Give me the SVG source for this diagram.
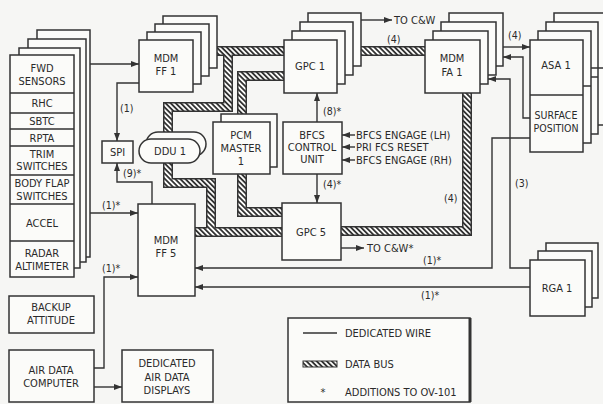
<svg xmlns="http://www.w3.org/2000/svg" width="603" height="404" viewBox="0 0 603 404">
<defs>
<style>
.box{fill:#fbfbf9;stroke:#333;stroke-width:1.5}
.t{font-family:'DejaVu Sans Condensed','Liberation Sans Narrow','Liberation Sans',sans-serif;font-size:11px;fill:#2a2a2a;text-anchor:middle}
.l{font-family:'DejaVu Sans Condensed','Liberation Sans Narrow','Liberation Sans',sans-serif;font-size:10.5px;fill:#2a2a2a}
.w{fill:none;stroke:#333;stroke-width:1.4}
.bo{fill:none;stroke:#333;stroke-width:10}
.bi{fill:none;stroke:url(#hatch);stroke-width:7}
</style>
<pattern id="hatch" patternUnits="userSpaceOnUse" width="3.6" height="3.6" patternTransform="rotate(-45)">
<rect width="3.6" height="3.6" fill="#fbfbf9"/><rect width="1.8" height="3.6" fill="#333"/>
</pattern>
<marker id="ah" markerWidth="8" markerHeight="6" refX="8" refY="3" orient="auto" markerUnits="userSpaceOnUse"><path d="M0,0 L8,3 L0,6 z" fill="#333"/></marker>
<path id="b1" d="M210 51 H288"/>
<path id="b2" d="M228 51 V107 H168 V183 H211 V232"/>
<path id="b3" d="M190 232 H286"/>
<path id="b4" d="M242 118 V76 H288"/>
<path id="b5" d="M242 170 V212 H286"/>
<path id="b6" d="M356 51 H429"/>
<path id="b7" d="M337 231 H467 V88"/>
</defs>
<rect width="603" height="404" fill="#f6f6f4"/>

<g id="buses">
<use href="#b1" class="bo"/><use href="#b2" class="bo"/><use href="#b3" class="bo"/><use href="#b4" class="bo"/><use href="#b5" class="bo"/><use href="#b6" class="bo"/><use href="#b7" class="bo"/>
<use href="#b1" class="bi"/><use href="#b2" class="bi"/><use href="#b3" class="bi"/><use href="#b4" class="bi"/><use href="#b5" class="bi"/><use href="#b6" class="bi"/><use href="#b7" class="bi"/>
</g>

<g id="sensors">
<rect class="box" x="37" y="30" width="53" height="227"/>
<rect class="box" x="28" y="39" width="58" height="223"/>
<rect class="box" x="19" y="48" width="61" height="220"/>
<rect class="box" x="10" y="55" width="64" height="222"/>
<path class="w" d="M10 93 H74 M10 113 H74 M10 129 H74 M10 146 H74 M10 175 H74 M10 204 H74 M10 241 H74"/>
<text class="t" x="42" y="72">FWD</text>
<text class="t" x="42" y="85">SENSORS</text>
<text class="t" x="42" y="107">RHC</text>
<text class="t" x="42" y="125">SBTC</text>
<text class="t" x="42" y="142">RPTA</text>
<text class="t" x="42" y="158">TRIM</text>
<text class="t" x="42" y="170">SWITCHES</text>
<text class="t" x="42" y="187">BODY FLAP</text>
<text class="t" x="42" y="200">SWITCHES</text>
<text class="t" x="42" y="227">ACCEL</text>
<text class="t" x="42" y="257">RADAR</text>
<text class="t" x="42" y="270">ALTIMETER</text>
</g>

<g id="mdm-ff1">
<rect class="box" x="163" y="16" width="54" height="52"/>
<rect class="box" x="155" y="24" width="54" height="52"/>
<rect class="box" x="147" y="32" width="54" height="52"/>
<rect class="box" x="139" y="40" width="54" height="52"/>
<text class="t" x="166" y="62">MDM</text>
<text class="t" x="166" y="75">FF 1</text>
</g>

<g id="gpc1">
<rect class="box" x="308" y="13" width="53" height="53"/>
<rect class="box" x="300" y="22" width="53" height="53"/>
<rect class="box" x="292" y="31" width="53" height="53"/>
<rect class="box" x="284" y="40" width="53" height="53"/>
<text class="t" x="310" y="70">GPC 1</text>
</g>

<g id="mdm-fa1">
<rect class="box" x="449" y="13" width="54" height="53"/>
<rect class="box" x="441" y="22" width="55" height="53"/>
<rect class="box" x="433" y="31" width="55" height="53"/>
<rect class="box" x="425" y="40" width="55" height="53"/>
<text class="t" x="452" y="62">MDM</text>
<text class="t" x="452" y="76">FA 1</text>
</g>

<g id="asa1">
<rect class="box" x="554" y="13" width="52" height="112"/>
<rect class="box" x="546" y="22" width="52" height="112"/>
<rect class="box" x="538" y="31" width="53" height="112"/>
<rect class="box" x="530" y="40" width="53" height="112"/>
<path class="w" d="M591 68 H606 M583 86 H591 M591 77 H598"/>
<path class="w" d="M530 95 H583"/>
<text class="t" x="556" y="69">ASA 1</text>
<text class="t" x="556" y="119" style="font-size:10.5px">SURFACE</text>
<text class="t" x="556" y="132" style="font-size:10.5px">POSITION</text>
</g>

<g id="rga1">
<rect class="box" x="546" y="243" width="52" height="55"/>
<rect class="box" x="538" y="251" width="54" height="56"/>
<rect class="box" x="530" y="260" width="55" height="56"/>
<text class="t" x="557" y="292">RGA 1</text>
</g>

<g id="spi">
<rect class="box" x="102" y="141" width="31" height="22"/>
<text class="t" x="117.5" y="156">SPI</text>
</g>

<g id="ddu1">
<rect class="box" x="146" y="132" width="60" height="24" rx="12"/>
<rect class="box" x="139" y="139" width="61" height="24" rx="12"/>
<text class="t" x="170" y="155">DDU 1</text>
</g>

<g id="pcm">
<rect class="box" x="221" y="114" width="56" height="53"/>
<rect class="box" x="213" y="122" width="57" height="52"/>
<text class="t" x="241" y="139">PCM</text>
<text class="t" x="241" y="152">MASTER</text>
<text class="t" x="241" y="165">1</text>
</g>

<g id="bfcs">
<rect class="box" x="283" y="122" width="59" height="52"/>
<text class="t" x="312" y="139">BFCS</text>
<text class="t" x="312" y="151">CONTROL</text>
<text class="t" x="312" y="163">UNIT</text>
</g>

<g id="gpc5">
<rect class="box" x="282" y="203" width="59" height="57"/>
<text class="t" x="311" y="236">GPC 5</text>
</g>

<g id="mdm-ff5">
<rect class="box" x="138" y="204" width="57" height="92"/>
<text class="t" x="166" y="244">MDM</text>
<text class="t" x="166" y="257">FF 5</text>
</g>

<g id="backup">
<rect class="box" x="9" y="296" width="85" height="37"/>
<text class="t" x="51" y="311">BACKUP</text>
<text class="t" x="51" y="324">ATTITUDE</text>
</g>

<g id="adc">
<rect class="box" x="9" y="350" width="85" height="52"/>
<text class="t" x="51" y="374">AIR DATA</text>
<text class="t" x="51" y="387">COMPUTER</text>
</g>

<g id="displays">
<rect class="box" x="122" y="350" width="91" height="52"/>
<text class="t" x="167" y="367">DEDICATED</text>
<text class="t" x="167" y="381">AIR DATA</text>
<text class="t" x="167" y="394">DISPLAYS</text>
</g>

<g id="connectors" class="w">
<path d="M90 64 H139" marker-end="url(#ah)"/>
<path d="M139 83 H117 V141" marker-end="url(#ah)"/>
<path d="M152 204 V182 H117 V163" marker-end="url(#ah)"/>
<path d="M90 213 H138" marker-end="url(#ah)"/>
<path d="M94 368 H104 V277 H138" marker-end="url(#ah)"/>
<path d="M94 387 H122" marker-end="url(#ah)"/>
<path d="M361 20 H392" marker-end="url(#ah)"/>
<path d="M341 248 H364" marker-end="url(#ah)"/>
<path d="M317 122 V93" marker-end="url(#ah)"/>
<path d="M317 174 V203" marker-end="url(#ah)"/>
<path d="M355 135 H342" marker-end="url(#ah)"/>
<path d="M355 147 H342" marker-end="url(#ah)"/>
<path d="M355 160 H342" marker-end="url(#ah)"/>
<path d="M503 47 H530" marker-end="url(#ah)"/>
<path d="M530 118 H523 V57 H503" marker-end="url(#ah)"/>
<path d="M530 268 H510 V79 H488" marker-end="url(#ah)"/>
<path d="M530 138 H492 V268 H195" marker-end="url(#ah)"/>
<path d="M530 287 H195" marker-end="url(#ah)"/>
</g>

<g id="labels">
<text class="l" x="120" y="112">(1)</text>
<text class="l" x="123" y="177">(9)*</text>
<text class="l" x="102" y="209">(1)*</text>
<text class="l" x="102" y="272">(1)*</text>
<text class="l" x="323" y="115">(8)*</text>
<text class="l" x="323" y="188">(4)*</text>
<text class="l" x="387" y="43">(4)</text>
<text class="l" x="508" y="39">(4)</text>
<text class="l" x="444" y="202">(4)</text>
<text class="l" x="515" y="187">(3)</text>
<text class="l" x="423" y="264">(1)*</text>
<text class="l" x="421" y="299">(1)*</text>
<text class="t" x="394" y="24" style="text-anchor:start">TO C&amp;W</text>
<text class="t" x="367" y="252" style="text-anchor:start">TO C&amp;W*</text>
<text class="t" x="356" y="139" style="text-anchor:start">BFCS ENGAGE (LH)</text>
<text class="t" x="356" y="151" style="text-anchor:start">PRI FCS RESET</text>
<text class="t" x="356" y="164" style="text-anchor:start">BFCS ENGAGE (RH)</text>
</g>

<g id="legend">
<rect class="box" x="288" y="318" width="182" height="84"/>
<path d="M470 318 V402" stroke="#333" stroke-width="3"/>
<path class="w" d="M303 333 H337"/>
<rect x="303" y="361" width="34" height="6" fill="url(#hatch)" stroke="#333" stroke-width="1"/>
<text class="t" x="345" y="337" style="text-anchor:start">DEDICATED WIRE</text>
<text class="t" x="345" y="368" style="text-anchor:start">DATA BUS</text>
<text class="t" x="323" y="396">*</text>
<text class="t" x="345" y="396" style="text-anchor:start">ADDITIONS TO OV-101</text>
</g>
</svg>
